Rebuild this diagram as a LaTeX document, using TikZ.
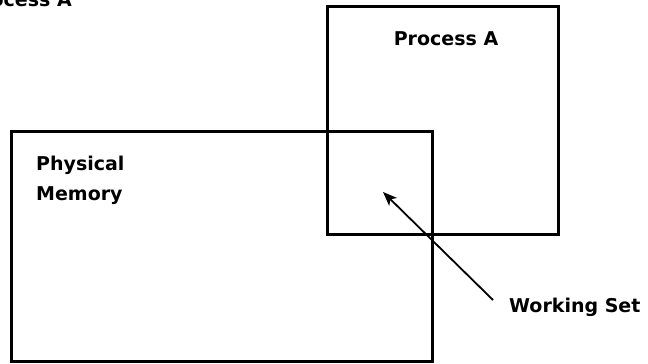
\documentclass[tikz,border=0pt]{standalone}
\usepackage{fontspec}
\setmainfont{DejaVu Sans}
\usetikzlibrary{arrows.meta}

\begin{document}
\begin{tikzpicture}[x=1pt, y=-1pt,
  region/.style={rectangle, draw=black, line width=3pt, inner sep=0pt},
  label/.style={font=\fontsize{19}{30}\selectfont\bfseries, inner sep=0pt},
  arrow/.style={-{Stealth[length=14pt, width=11pt, inset=3.5pt]}, line width=1.8pt},
]
\useasboundingbox (0, 0) rectangle (648, 364);
\clip (0, 0) rectangle (648, 364);

\node[region, minimum width=421pt, minimum height=230pt] (mem)
  at (221.5, 246) {};
\node[region, minimum width=231pt, minimum height=228pt] (proc)
  at (442.5, 120) {};

\node[label, anchor=base east] (cut) at (72, 6) {Process A};
\node[label, anchor=base] (proclbl) at (446, 45) {Process A};
\node[label, align=left, anchor=west] (memlbl) at (36, 180)
  {Physical\\Memory};
\node[label, anchor=base west] (ws) at (509, 312) {Working Set};

\coordinate (wsfoot) at (493, 300);
\coordinate (wstip) at (383, 192);
\draw[arrow] (wsfoot) -- (wstip);

\end{tikzpicture}
\end{document}
